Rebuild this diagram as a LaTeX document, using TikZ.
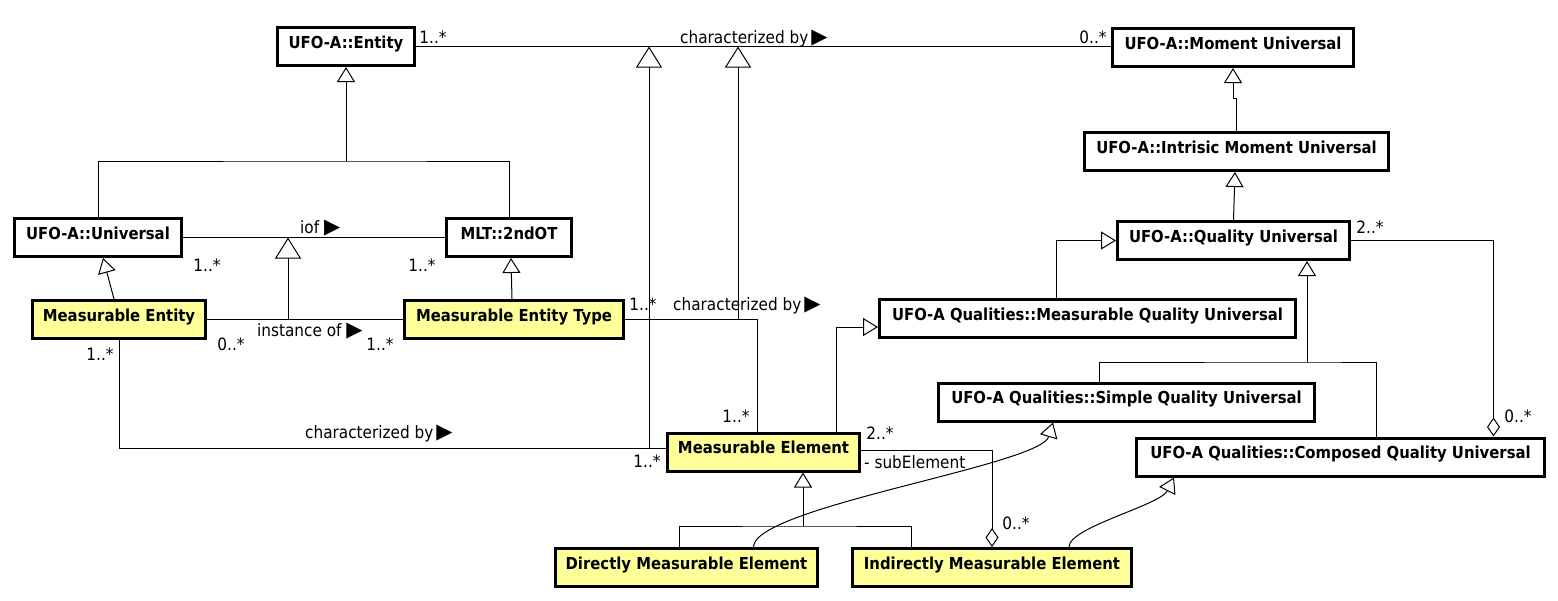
\documentclass[tikz,border=0pt]{standalone}
\usepackage{fontspec}
\setmainfont{DejaVu Sans Condensed}
\newfontfamily\trifont{DejaVu Sans}
\usetikzlibrary{arrows.meta}
\definecolor{kindyellow}{HTML}{FFFF99}
\newcommand{\rtri}{{\trifont\fontsize{21}{21}\selectfont ▶}}

\begin{document}
\begin{tikzpicture}[
    x=1pt, y=-1pt,
    base/.style = {rectangle, draw=black, line width=3pt,
minimum height=38pt, inner sep=0pt, text height=12pt, text depth=9pt,
text centered, font=\bfseries\fontsize{16.5}{19}\selectfont},
    cls/.style = {base, fill=white},
    kind/.style = {base, fill=kindyellow},
    lbl/.style = {inner sep=0pt, font=\fontsize{17}{20}\selectfont},
    assoc/.style = {line width=1pt},
    gen/.style = {assoc, -{Triangle[open, width=18pt, length=15pt]}},
    biggen/.style = {assoc, -{Triangle[open, width=26pt, length=21pt]}},
    agg/.style = {assoc, -{Diamond[open, width=13pt, length=19pt]}}
]
  \useasboundingbox (0,0) rectangle (1558,600);

  \node (entity) [cls, minimum width=137pt] at (346,46.5) {UFO-A::Entity};
  \node (moment) [cls, minimum width=241pt] at (1233,47.5) {UFO-A::Moment Universal};
  \node (intmoment) [cls, minimum width=304pt] at (1236.5,151.5) {UFO-A::Intrisic Moment Universal};
  \node (quality) [cls, minimum width=232pt] at (1233.5,240.5) {UFO-A::Quality Universal};
  \node (universal) [cls, minimum width=167pt] at (98,237.5) {UFO-A::Universal};
  \node (secondot) [cls, minimum width=125pt] at (509,237.5) {MLT::2ndOT};
  \node (measent) [kind, minimum width=173pt] at (119,319.5) {Measurable Entity};
  \node (measenttype) [kind, minimum width=219pt] at (514,319.5) {Measurable Entity Type};
  \node (measqual) [cls, minimum width=416pt] at (1087.5,318.5) {UFO-A Qualities::Measurable Quality Universal};
  \node (simplequal) [cls, minimum width=376pt] at (1126.5,402) {UFO-A Qualities::Simple Quality Universal};
  \node (compqual) [cls, minimum width=408pt] at (1340.5,457) {UFO-A Qualities::Composed Quality Universal};
  \node (measelem) [kind, minimum width=192pt] at (763.5,452) {Measurable Element};
  \node (directelem) [kind, minimum width=262pt] at (686.5,567.5) {Directly Measurable Element};
  \node (indirectelem) [kind, minimum width=279pt] at (992,567.5) {Indirectly Measurable Element};

  % junction points of the generalization sets and association lines
  \coordinate (entjoin) at (346,161);
  \coordinate (iofpt) at (288,237.5);
  \coordinate (instpt) at (288,319.5);
  \coordinate (charpt1) at (649,46.5);
  \coordinate (charpt2) at (738,46.5);
  \coordinate (entcharpt) at (649,448);
  \coordinate (typecharpt) at (738,319.5);
  \coordinate (qualjoin) at (1307,362);
  \coordinate (elemjoin) at (803,526);

  \draw[assoc] (entity.east) -- (entity.east -| moment.west);
  \draw[assoc] (universal.north) |- (entjoin) -| (secondot.north);
  \draw[gen] (entjoin) -- (entity.south);
  \draw[assoc] (universal.east) -- (secondot.west);
  \draw[gen] ([xshift=-5pt]measent.north) -- ([xshift=5pt]universal.south);
  \draw[gen] ([xshift=-2pt]measenttype.north) -- ([xshift=2pt]secondot.south);
  \draw[assoc] (measent.east) -- (measenttype.west);
  \draw[biggen] (instpt) -- (iofpt);
  \draw[assoc] (measenttype.east) -| ([xshift=-6.5pt]measelem.north);
  \draw[assoc] (measent.south) |- ([yshift=4pt]measelem.west);
  \draw[biggen] (entcharpt) -- (charpt1);
  \draw[biggen] (typecharpt) -- (charpt2);

  \draw[gen] ([xshift=72.5pt]measelem.north) |- ([yshift=-8.5pt]measqual.west);
  \draw[gen] ([xshift=-31.5pt]measqual.north) |- (quality.west);
  \draw[gen] (quality.north) -- ([xshift=-1.5pt]intmoment.south);
  \draw[gen] (intmoment.north) -- ++(0,-33) -| (moment.south);
  \draw[assoc] ([xshift=-27.5pt]simplequal.north) |- (qualjoin) -| ([xshift=35.5pt]compqual.north);
  \draw[gen] (qualjoin) -- ([xshift=73.5pt]quality.south);
  \draw[agg] (quality.east) -| ([xshift=153pt]compqual.north);

  \draw[agg] ([yshift=2pt]measelem.east) -| (indirectelem.north);
  \draw[assoc] ([xshift=-7.5pt]directelem.north) |- (elemjoin) -| ([xshift=-81pt]indirectelem.north);
  \draw[gen] (elemjoin) -- ([xshift=39.5pt]measelem.south);
  \draw[gen] ([xshift=67pt]directelem.north) .. controls +(0,-40) and +(-13,43) .. ([xshift=-73.5pt]simplequal.south);
  \draw[gen] ([xshift=77pt]indirectelem.north) .. controls +(0,-20) and +(-14,28) .. ([xshift=-166.5pt]compqual.south);

  % association names and multiplicities
  \node[lbl] (entmult) at (433,37) {1..*};
  \node[lbl] (momult) at (1093,37) {0..*};
  \node[lbl, anchor=base west] (charlbl) at (680,43) {characterized by\,\rtri};
  \node[lbl, anchor=base west] (ioflbl) at (300,233) {iof \rtri};
  \node[lbl] (unimult) at (207,265) {1..*};
  \node[lbl] (otmult) at (422,265) {1..*};
  \node[lbl, anchor=base west] (instlbl) at (257,336) {instance of \rtri};
  \node[lbl] (instmulta) at (231,344) {0..*};
  \node[lbl] (instmultb) at (380,344) {1..*};
  \node[lbl] (typemult) at (643,304) {1..*};
  \node[lbl, anchor=base west] (typecharlbl) at (673,310) {characterized by\,\rtri};
  \node[lbl] (elemmulta) at (736,416) {1..*};
  \node[lbl] (entmultb) at (100,354) {1..*};
  \node[lbl, anchor=base west] (entcharlbl) at (305,438) {characterized by\,\rtri};
  \node[lbl] (elemmultb) at (647,461) {1..*};
  \node[lbl] (submulta) at (880,433) {2..*};
  \node[lbl, anchor=base west] (sublbl) at (864,468) {- subElement};
  \node[lbl] (submultb) at (1016,523) {0..*};
  \node[lbl] (qualmult) at (1370,227) {2..*};
  \node[lbl] (compmult) at (1518,416) {0..*};

\end{tikzpicture}
\end{document}
